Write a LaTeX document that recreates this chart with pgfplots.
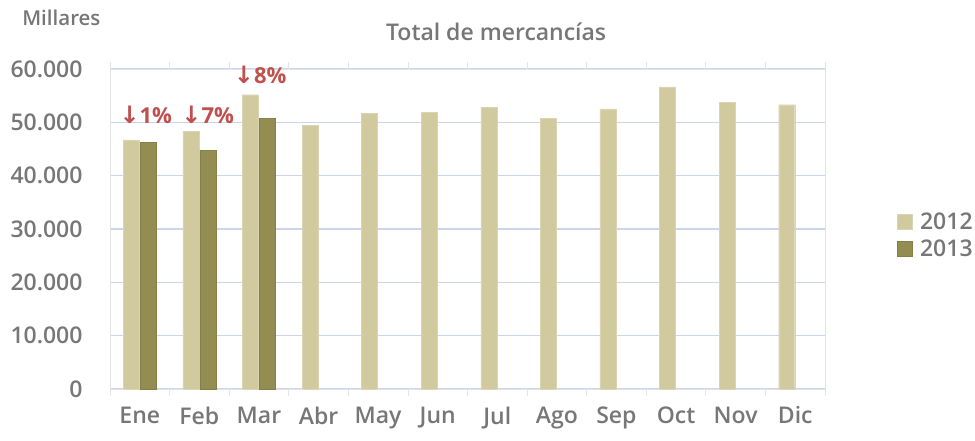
\documentclass[border=0pt]{standalone}
\usepackage{pgfplots}
\pgfplotsset{compat=1.18}
\usepackage{fontspec}
\setmainfont{Open Sans}[UprightFont={* Semibold}]
\newfontfamily\arrowfont{DejaVu Sans}[UprightFont={* Bold}]
\newfontfamily\boldfont{Open Sans Bold}
\definecolor{txtgray}{HTML}{777777}
\definecolor{c2012}{HTML}{D0CA9E}
\definecolor{c2013}{HTML}{948D52}
\definecolor{gridblue}{HTML}{C9D6EC}
\definecolor{framegray}{HTML}{E4E4E4}
\definecolor{annred}{HTML}{C0504D}
\begin{document}
\begin{tikzpicture}
\path[use as bounding box] (0,0) rectangle (975pt,441pt);
\begin{axis}[
  at={(110pt,52pt)}, anchor=south west,
  scale only axis, width=715pt, height=320pt,
  ybar=1pt, bar width=16pt,
  xmin=-0.5, xmax=11.5, ymin=0, ymax=60000,
  xtick={0,...,11},
  xticklabels={Ene,Feb,Mar,Abr,May,Jun,Jul,Ago,Sep,Oct,Nov,Dic},
  major x tick style={draw=none},
  minor xtick={-0.5,0.5,...,11.5},
  minor x tick style={framegray, line width=0.8pt},
  minor tick length=7pt,
  xtick align=outside,
  ytick={0,10000,...,60000},
  major y tick style={draw=none},
  ymajorgrids, grid style={gridblue, line width=1.4pt},
  axis line style={framegray, line width=0.8pt},
  scaled y ticks=false,
  /pgf/number format/.cd, 1000 sep={.}, assume math mode=true,
  /pgfplots/.cd,
  tick label style={font=\fontsize{23}{26}\selectfont, text=txtgray},
  yticklabel style={font=\fontsize{23}{26}\selectfont, anchor=east, xshift=-24pt},
  xticklabel style={anchor=north, yshift=-10pt},
  legend style={at={(1.1,0.48)}, anchor=west, draw=none, fill=none,
    font=\fontsize{23}{26}\selectfont, text=txtgray, row sep=5pt,
    inner sep=0pt, /tikz/every odd column/.append style={column sep=6pt}},
  legend cell align=left,
  legend image code/.code={\fill[#1] (0pt,-7.5pt) rectangle (15pt,7.5pt);},
  clip=false,
]
\addplot[fill=c2012, draw=c2012!80!white] coordinates {
 (0,46700) (1,48250) (2,55180) (3,49430) (4,51620) (5,51900)
 (6,52800) (7,50750) (8,52500) (9,56650) (10,53800) (11,53300)};
\addlegendentry{2012}
\addplot[fill=c2013, draw=c2013!90!black] coordinates {
 (0,46240) (1,44740) (2,50810)};
\addlegendentry{2013}
\node[text=annred, font=\boldfont\fontsize{22}{24}\selectfont] at (axis cs:0.1,51400) {{\arrowfont\fontsize{24}{24}\selectfont ↓}1\%};
\node[text=annred, font=\boldfont\fontsize{22}{24}\selectfont] at (axis cs:1.14,51400) {{\arrowfont\fontsize{24}{24}\selectfont ↓}7\%};
\node[text=annred, font=\boldfont\fontsize{22}{24}\selectfont] at (axis cs:2.02,58900) {{\arrowfont\fontsize{24}{24}\selectfont ↓}8\%};
\node[text=txtgray, font=\fontsize{23}{26}\selectfont] at (axis description cs:0.54,1.116) {Total de mercancías};
\node[text=txtgray, font=\fontsize{20.5}{23}\selectfont] at (axis description cs:-0.068,1.16) {Millares};
\end{axis}
\end{tikzpicture}
\end{document}
